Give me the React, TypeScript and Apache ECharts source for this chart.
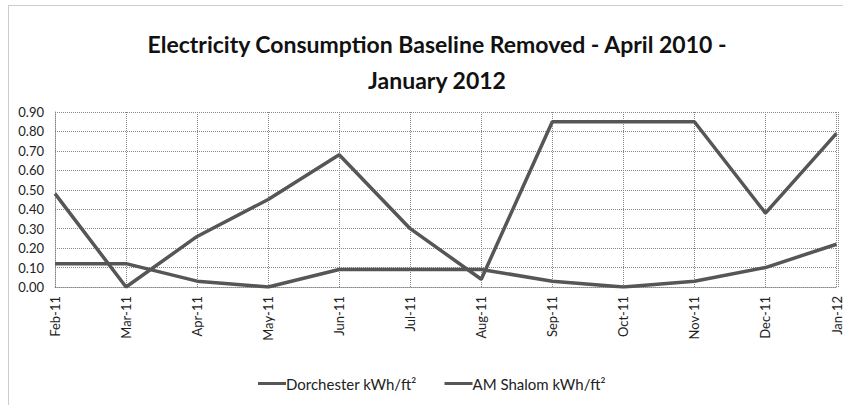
import React, { useEffect, useRef } from "react";
import * as echarts from "echarts";

const categories = ["Feb-11", "Mar-11", "Apr-11", "May-11", "Jun-11", "Jul-11", "Aug-11", "Sep-11", "Oct-11", "Nov-11", "Dec-11", "Jan-12"];
const dorchester = [0.48, 0.0, 0.26, 0.45, 0.68, 0.3, 0.04, 0.85, 0.85, 0.85, 0.38, 0.79];
const amShalom = [0.12, 0.12, 0.03, 0.0, 0.09, 0.09, 0.09, 0.03, 0.0, 0.03, 0.1, 0.22];
const yTicks = { min: 0, max: 0.9, interval: 0.1 };

const FONT = "Lato, 'Open Sans', sans-serif";

export default function App() {
  const ref = useRef<HTMLDivElement>(null);
  useEffect(() => {
    if (!ref.current) return;
    const chart = echarts.init(ref.current, null, { renderer: "svg" });
    chart.setOption({
      animation: false,
      backgroundColor: "#fff",
      textStyle: { fontFamily: FONT },
      title: {
        text: "Electricity Consumption Baseline Removed - April 2010 -\nJanuary 2012",
        left: 432,
        textAlign: "center",
        top: 21,
        textStyle: { fontFamily: FONT, fontSize: 23, fontWeight: "bold", color: "#111", lineHeight: 36 },
      },
      legend: {
        left: 253,
        top: 371,
        itemWidth: 28,
        itemHeight: 3,
        itemGap: 28,
        icon: "rect",
        textStyle: { fontFamily: FONT, fontSize: 15, color: "#222", padding: [0, 0, 0, -5] },
        data: ["Dorchester kWh/ft²", "AM Shalom kWh/ft²"],
      },
      grid: { left: 55, right: 5, top: 112, bottom: 118, containLabel: false },
      xAxis: {
        type: "category",
        data: categories,
        boundaryGap: false,
        axisLine: { show: true, lineStyle: { color: "#888", type: "dotted", width: 1 } },
        axisTick: { show: false },
        axisLabel: { rotate: 90, fontFamily: FONT, fontSize: 13, color: "#222", margin: 9, interval: 0 },
        splitLine: { show: true, lineStyle: { color: "#888", type: "dotted", width: 1 } },
      },
      yAxis: {
        type: "value",
        min: yTicks.min,
        max: yTicks.max,
        interval: yTicks.interval,
        axisLine: { show: true, lineStyle: { color: "#888", type: "dotted", width: 1 } },
        axisTick: { show: false },
        axisLabel: { fontFamily: FONT, fontSize: 13, color: "#222", margin: 11, formatter: (v: number) => v.toFixed(2) },
        splitLine: { show: true, lineStyle: { color: "#888", type: "dotted", width: 1 } },
      },
      graphic: [
        {
          type: "rect",
          shape: { x: 8.5, y: 5.5, width: 850, height: 420 },
          style: { fill: "none", stroke: "#999", lineWidth: 1, lineDash: [1, 1] },
          silent: true,
        },
        {
          type: "line",
          shape: { x1: 838.5, y1: 112, x2: 838.5, y2: 287 },
          style: { stroke: "#888", lineWidth: 1, lineDash: [1, 1] },
          silent: true,
        },
      ],
      series: [
        {
          name: "Dorchester kWh/ft²",
          type: "line",
          data: dorchester,
          symbol: "none",
          lineStyle: { color: "#565656", width: 3.5 },
          itemStyle: { color: "#565656" },
        },
        {
          name: "AM Shalom kWh/ft²",
          type: "line",
          data: amShalom,
          symbol: "none",
          lineStyle: { color: "#565656", width: 3.5 },
          itemStyle: { color: "#565656" },
        },
      ],
    });
    return () => chart.dispose();
  }, []);
  return (
    <div
      ref={ref}
      style={{ position: "absolute", left: 0, top: 0, width: 843, height: 405 }}
    />
  );
}
